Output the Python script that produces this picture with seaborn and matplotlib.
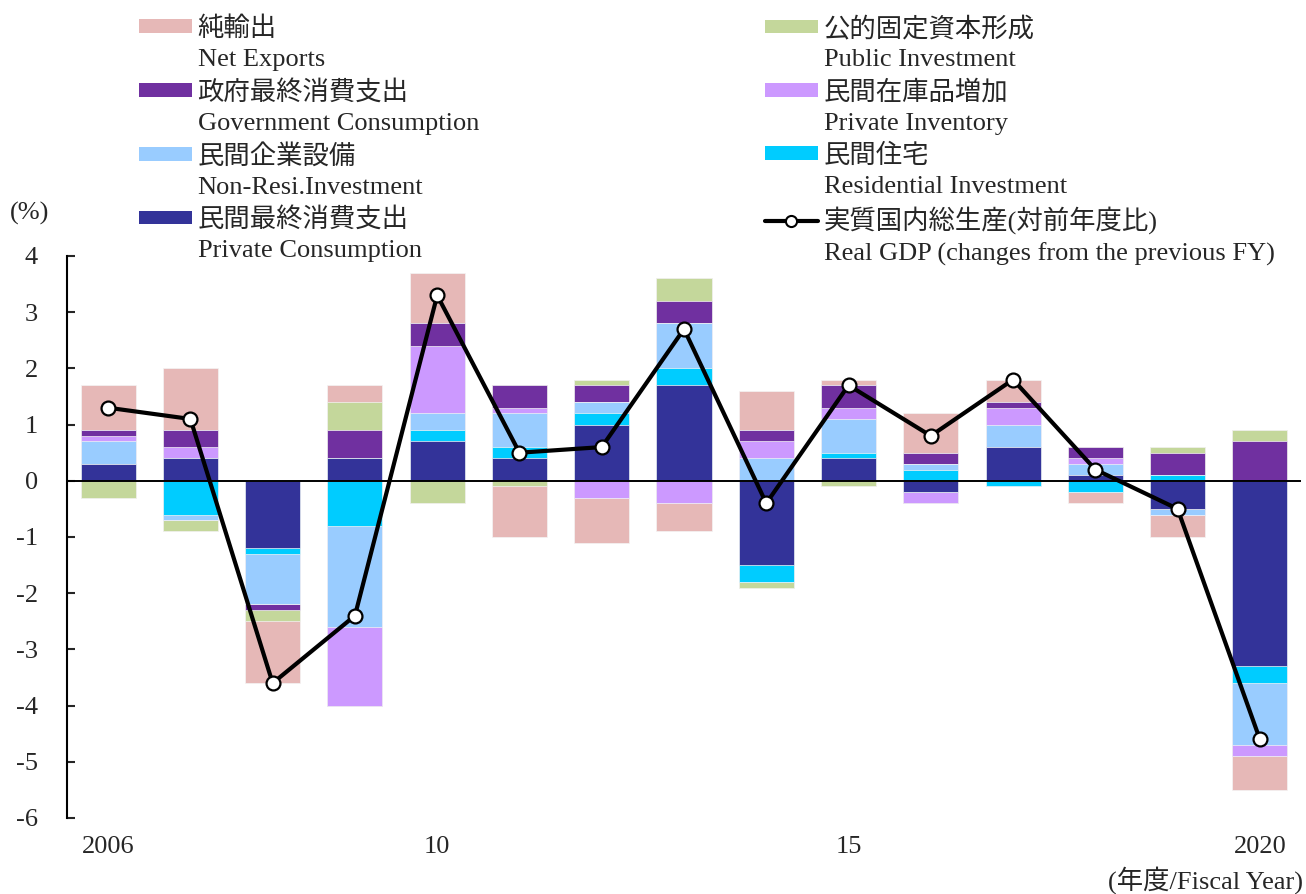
import numpy as np
import pandas as pd
import seaborn as sns
import matplotlib.pyplot as plt
from matplotlib.patches import Patch
from matplotlib.lines import Line2D

# data (contributions to real GDP growth, % points)
years = list(range(2006, 2021))
pc = [0.3, 0.4, -1.2, 0.4, 0.7, 0.4, 1.0, 1.7, -1.5, 0.4, -0.2, 0.6, 0.1, -0.5, -3.3]
res = [0.0, -0.6, -0.1, -0.8, 0.2, 0.2, 0.2, 0.3, -0.3, 0.1, 0.2, -0.1, -0.2, 0.1, -0.3]
nonres = [0.4, -0.1, -0.9, -1.8, 0.3, 0.6, 0.2, 0.8, 0.4, 0.6, 0.1, 0.4, 0.2, -0.1, -1.1]
inv = [0.1, 0.2, 0.0, -1.4, 1.2, 0.1, -0.3, -0.4, 0.3, 0.2, -0.2, 0.3, 0.1, 0.0, -0.2]
gov = [0.1, 0.3, -0.1, 0.5, 0.4, 0.4, 0.3, 0.4, 0.2, 0.4, 0.2, 0.1, 0.2, 0.4, 0.7]
pub = [-0.3, -0.2, -0.2, 0.5, -0.4, -0.1, 0.1, 0.4, -0.1, -0.1, 0.0, 0.0, 0.0, 0.1, 0.2]
nx = [0.8, 1.1, -1.1, 0.3, 0.9, -0.9, -0.8, -0.5, 0.7, 0.1, 0.7, 0.4, -0.2, -0.4, -0.6]
gdp = [1.3, 1.1, -3.6, -2.4, 3.3, 0.5, 0.6, 2.7, -0.4, 1.7, 0.8, 1.8, 0.2, -0.5, -4.6]

tick_labels = ['2006', '', '', '', '10', '', '', '', '', '15', '', '', '', '', '2020']

# stacking order from zero outward
comp_names = ['pc', 'res', 'nonres', 'inv', 'gov', 'pub', 'nx']
comp_vals = [pc, res, nonres, inv, gov, pub, nx]
colors = {'pc': '#333399', 'res': '#00CCFF', 'nonres': '#99CCFF', 'inv': '#CC99FF',
          'gov': '#7030A0', 'pub': '#C4D79B', 'nx': '#E6B8B7'}
jp = {'nx': '純輸出', 'gov': '政府最終消費支出', 'nonres': '民間企業設備',
      'pc': '民間最終消費支出', 'pub': '公的固定資本形成', 'inv': '民間在庫品増加',
      'res': '民間住宅'}
en = {'nx': 'Net Exports', 'gov': 'Government Consumption',
      'nonres': 'Non-Resi.Investment', 'pc': 'Private Consumption',
      'pub': 'Public Investment', 'inv': 'Private Inventory',
      'res': 'Residential Investment'}

sns.set_style('white')
plt.rcParams['font.family'] = ['Liberation Serif', 'Noto Sans CJK JP', 'DejaVu Sans']
plt.rcParams['axes.unicode_minus'] = False
FS = 19

df = pd.DataFrame(dict(zip(comp_names, comp_vals)))
df['year'] = [str(y) for y in years]
pos = df[comp_names].clip(lower=0).cumsum(axis=1)
neg = df[comp_names].clip(upper=0).cumsum(axis=1)

fig = plt.figure(figsize=(13.06, 8.94), dpi=100)
ax = fig.add_axes([67 / 1306, 76 / 894, 1234 / 1306, 562 / 894])

# stacked bars: draw outermost cumulative first, inner ones on top
for name in comp_names[::-1]:
    for cum in (pos, neg):
        sns.barplot(x=df['year'], y=cum[name], color=colors[name], saturation=1,
                    width=0.67, errorbar=None, edgecolor='#f4f4f4', linewidth=0.5,
                    ax=ax)

ax.axhline(0, color='black', lw=1.4, zorder=3)

sns.lineplot(x=np.arange(len(years)), y=gdp, color='black', lw=3, marker='o',
             markersize=10, markerfacecolor='white', markeredgecolor='black',
             markeredgewidth=1.6, ax=ax, zorder=5)

ax.set_xlim(-0.5, len(years) - 0.5)
ax.set_ylim(-6, 4)
ax.set_yticks(range(-6, 5))
ax.set_xticks(range(len(years)))
ax.set_xticklabels(tick_labels)
ax.set_xlabel('')
ax.set_ylabel('')
for s in ['top', 'right', 'bottom']:
    ax.spines[s].set_visible(False)
ax.spines['left'].set_color('black')
ax.spines['left'].set_linewidth(1.5)
ax.tick_params(axis='y', direction='in', length=6, width=1.5, pad=21,
               labelsize=FS, left=True)
ax.tick_params(axis='x', length=0, pad=13, labelsize=FS)

fig.text(30 / 1306, 1 - 213 / 894, '(%)', fontsize=FS, ha='center', va='center')
fig.text(1303 / 1306, 1 - 880 / 894, '(年度/Fiscal Year)', fontsize=FS,
         ha='right', va='center')

# legend: two columns, Japanese label with patch, English line below
blank = Patch(facecolor='none', edgecolor='none')


def make_legend(keys, x, with_gdp=False):
    handles, labels = [], []
    for k in keys:
        handles += [Patch(facecolor=colors[k], edgecolor='none'), blank]
        labels += [jp[k], en[k]]
    if with_gdp:
        handles += [Line2D([0], [0], color='black', lw=3, marker='o', markersize=8,
                           markerfacecolor='white', markeredgecolor='black',
                           markeredgewidth=1.5), blank]
        labels += ['実質国内総生産(対前年度比)',
                   'Real GDP (changes from the previous FY)']
    leg = fig.legend(handles, labels, loc='upper left',
                     bbox_to_anchor=(x, 1 - 16 / 894), frameon=False, fontsize=FS,
                     handlelength=2.0, handleheight=0.42, handletextpad=0.22,
                     labelspacing=0.32, borderpad=0, borderaxespad=0)
    return leg


make_legend(['nx', 'gov', 'nonres', 'pc'], 139 / 1306)
make_legend(['pub', 'inv', 'res'], 765 / 1306, with_gdp=True)

fig.savefig('out.png', dpi=100)
